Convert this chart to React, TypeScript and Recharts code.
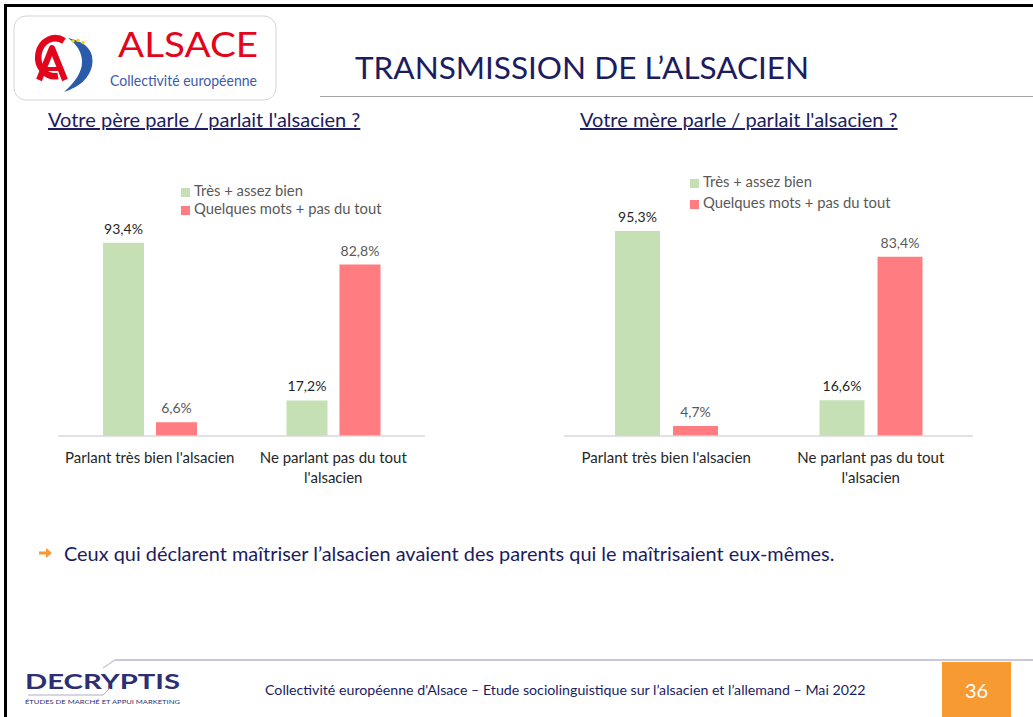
import { BarChart, Bar, XAxis, YAxis, Legend, LabelList, Text } from "recharts";

// categories + series
const categories = [
  "Parlant très bien l'alsacien",
  "Ne parlant pas du tout l'alsacien",
];
const seriesNames = ["Très + assez bien", "Quelques mots + pas du tout"];
const pereTresBien = [93.4, 17.2];
const perePeu = [6.6, 82.8];
const mereTresBien = [95.3, 16.6];
const merePeu = [4.7, 83.4];

const GREEN = "#c5e0b4";
const RED = "#ff7c80";
const NAVY = "#1c1c5f";
const FONT = "Lato, 'Open Sans', sans-serif";

const buildRows = (a: number[], b: number[]) =>
  categories.map((name, i) => ({ name, bien: a[i], peu: b[i] }));

const pct = (v: any) => `${String(v).replace(".", ",")}%`;

const CategoryTick = (props: any) => {
  const { x, y, payload } = props;
  return (
    <Text
      x={x}
      y={y + 8}
      width={175}
      textAnchor="middle"
      verticalAnchor="start"
      lineHeight={20}
      fontSize={15}
      fill="#262626"
      fontFamily={FONT}
    >
      {payload.value}
    </Text>
  );
};

type ChartProps = {
  rows: { name: string; bien: number; peu: number }[];
  left: number;
  top: number;
  width: number;
  height: number;
  margin: { top: number; right: number; bottom: number; left: number };
  barSize: number;
  barGap: number;
  legendTop: number;
  legendLeft: number;
  legendLine: number;
};

const ParentChart = (p: ChartProps) => {
  return (
    <div style={{ position: "absolute", left: p.left, top: p.top }}>
      <BarChart
        width={p.width}
        height={p.height}
        data={p.rows}
        margin={p.margin}
        barSize={p.barSize}
        barGap={p.barGap}
      >
        <XAxis
          dataKey="name"
          axisLine={{ stroke: "#d9d9d9", strokeWidth: 1.5 }}
          tickLine={false}
          height={50}
          interval={0}
          tick={<CategoryTick />}
        />
        <YAxis hide domain={[0, 100]} />
        <Legend
          layout="vertical"
          align="center"
          verticalAlign="middle"
          iconType="square"
          iconSize={9}
          itemSorter="dataKey"
          wrapperStyle={{
            top: p.legendTop,
            left: p.legendLeft,
            width: "auto",
            height: "auto",
            fontSize: 14.8,
            lineHeight: `${p.legendLine}px`,
            fontFamily: FONT,
          }}
          formatter={(v: any) => <span style={{ color: "#595959" }}>{v}</span>}
        />
        <Bar dataKey="bien" name={seriesNames[0]} fill={GREEN} isAnimationActive={false}>
          <LabelList
            dataKey="bien"
            position="top"
            offset={9}
            formatter={pct}
            fill="#262626"
            fontSize={14}
          />
        </Bar>
        <Bar dataKey="peu" name={seriesNames[1]} fill={RED} isAnimationActive={false}>
          <LabelList
            dataKey="peu"
            position="top"
            offset={9}
            formatter={pct}
            fill="#595959"
            fontSize={14}
          />
        </Bar>
      </BarChart>
    </div>
  );
};

const AlsaceLogo = () => (
  <svg
    width={266}
    height={88}
    style={{ position: "absolute", left: 12, top: 14 }}
  >
    <rect x={2} y={2} width={262} height={84} rx={12} fill="#fff" stroke="#d4d4d4" />
    {/* red ring + A */}
    <path
      d="M 46 62 A 17 19 0 1 1 52 27"
      fill="none"
      stroke="#e3051b"
      strokeWidth={6.5}
    />
    <path
      d="M 27 66 L 40 34 L 53 66"
      fill="none"
      stroke="#e3051b"
      strokeWidth={6}
      strokeLinejoin="round"
    />
    <path d="M 32 55 L 48 55" stroke="#e3051b" strokeWidth={4} />
    {/* blue crescent */}
    <path
      d="M 56 24 Q 84 30 80 52 Q 76 70 52 78 Q 70 62 70 48 Q 70 34 56 24 Z"
      fill="#2a5bab"
    />
    <circle cx={61} cy={27} r={1.7} fill="#f6d200" />
    <circle cx={66} cy={26.5} r={1.7} fill="#f6d200" />
    <circle cx={71} cy={28.5} r={1.7} fill="#f6d200" />
    <text
      x={106}
      y={43}
      fontSize={35}
      fill="#e3051b"
      fontFamily={FONT}
      textLength={140}
      lengthAdjust="spacingAndGlyphs"
    >
      ALSACE
    </text>
    <text
      x={98}
      y={72}
      fontSize={14.5}
      fill="#3b5ca8"
      fontFamily={FONT}
      textLength={147}
      lengthAdjust="spacingAndGlyphs"
    >
      Collectivité européenne
    </text>
  </svg>
);

const DecryptisLogo = () => (
  <svg width={200} height={60} style={{ position: "absolute", left: 20, top: 655 }}>
    <polyline points="83,13 95,5 200,5" fill="none" stroke="#c9c9d9" strokeWidth={1.5} />
    <text
      x={5}
      y={34}
      fontSize={21}
      fontWeight={700}
      fill="#2d2f74"
      fontFamily={FONT}
      textLength={155}
      lengthAdjust="spacingAndGlyphs"
    >
      DECRYPTIS
    </text>
    <polyline points="8,40 83,40 90,33" fill="none" stroke="#9a9aae" strokeWidth={0.8} />
    <text
      x={5}
      y={49}
      fontSize={6.5}
      fill="#2d2f74"
      fontFamily={FONT}
      textLength={155}
      lengthAdjust="spacingAndGlyphs"
    >
      ÉTUDES DE MARCHÉ ET APPUI MARKETING
    </text>
  </svg>
);

const App = () => {
  return (
    <div
      style={{
        position: "absolute",
        left: 0,
        top: 0,
        width: 1033,
        height: 717,
        overflow: "hidden",
        background: "#fff",
        fontFamily: FONT,
      }}
    >
      {/* frame */}
      <div style={{ position: "absolute", left: 4, top: 4, width: 1029, height: 3, background: "#000" }} />
      <div style={{ position: "absolute", left: 4, top: 4, width: 3, height: 713, background: "#000" }} />

      <AlsaceLogo />

      <div
        style={{
          position: "absolute",
          left: 355,
          top: 47,
          fontSize: 31.5,
          color: NAVY,
          whiteSpace: "nowrap",
          lineHeight: "40px",
        }}
      >
        TRANSMISSION DE L’ALSACIEN
      </div>
      <div style={{ position: "absolute", left: 320, top: 96, width: 713, height: 1, background: "#a6a6a6" }} />

      <div
        style={{
          position: "absolute",
          left: 48,
          top: 106,
          fontSize: 20,
          color: NAVY,
          textDecoration: "underline",
          whiteSpace: "nowrap",
          lineHeight: "26px",
        }}
      >
        Votre père parle / parlait l'alsacien ?
      </div>
      <div
        style={{
          position: "absolute",
          left: 580,
          top: 106,
          fontSize: 20,
          color: NAVY,
          textDecoration: "underline",
          whiteSpace: "nowrap",
          lineHeight: "26px",
        }}
      >
        Votre mère parle / parlait l'alsacien ?
      </div>

      <ParentChart
        rows={buildRows(pereTresBien, perePeu)}
        left={40}
        top={140}
        width={400}
        height={360}
        margin={{ top: 89, right: 15, bottom: 14, left: 18 }}
        barSize={41}
        barGap={12}
        legendTop={41}
        legendLeft={141}
        legendLine={18}
      />
      <ParentChart
        rows={buildRows(mereTresBien, merePeu)}
        left={545}
        top={130}
        width={460}
        height={370}
        margin={{ top: 91, right: 32, bottom: 14, left: 19 }}
        barSize={45}
        barGap={13}
        legendTop={41}
        legendLeft={145}
        legendLine={21}
      />

      {/* conclusion */}
      <svg width={14} height={12} style={{ position: "absolute", left: 39, top: 547 }}>
        <path d="M 0 4.5 L 7 4.5 L 7 1 L 13 6 L 7 11 L 7 7.5 L 0 7.5 Z" fill="#f79a32" />
      </svg>
      <div
        style={{
          position: "absolute",
          left: 64,
          top: 540,
          fontSize: 19.9,
          color: NAVY,
          whiteSpace: "nowrap",
          lineHeight: "26px",
        }}
      >
        Ceux qui déclarent maîtriser l’alsacien avaient des parents qui le maîtrisaient eux-mêmes.
      </div>

      {/* footer */}
      <div style={{ position: "absolute", left: 115, top: 659, width: 918, height: 2, background: "#c9c9d9" }} />
      <DecryptisLogo />
      <div
        style={{
          position: "absolute",
          left: 265,
          top: 681,
          fontSize: 14.2,
          color: NAVY,
          whiteSpace: "nowrap",
          lineHeight: "18px",
        }}
      >
        Collectivité européenne d'Alsace – Etude sociolinguistique sur l’alsacien et l’allemand – Mai 2022
      </div>
      <div
        style={{
          position: "absolute",
          left: 942,
          top: 662,
          width: 69,
          height: 55,
          background: "#f79a32",
          color: "#fff",
          fontSize: 20,
          display: "flex",
          alignItems: "center",
          justifyContent: "center",
        }}
      >
        36
      </div>
    </div>
  );
};

export default App;
